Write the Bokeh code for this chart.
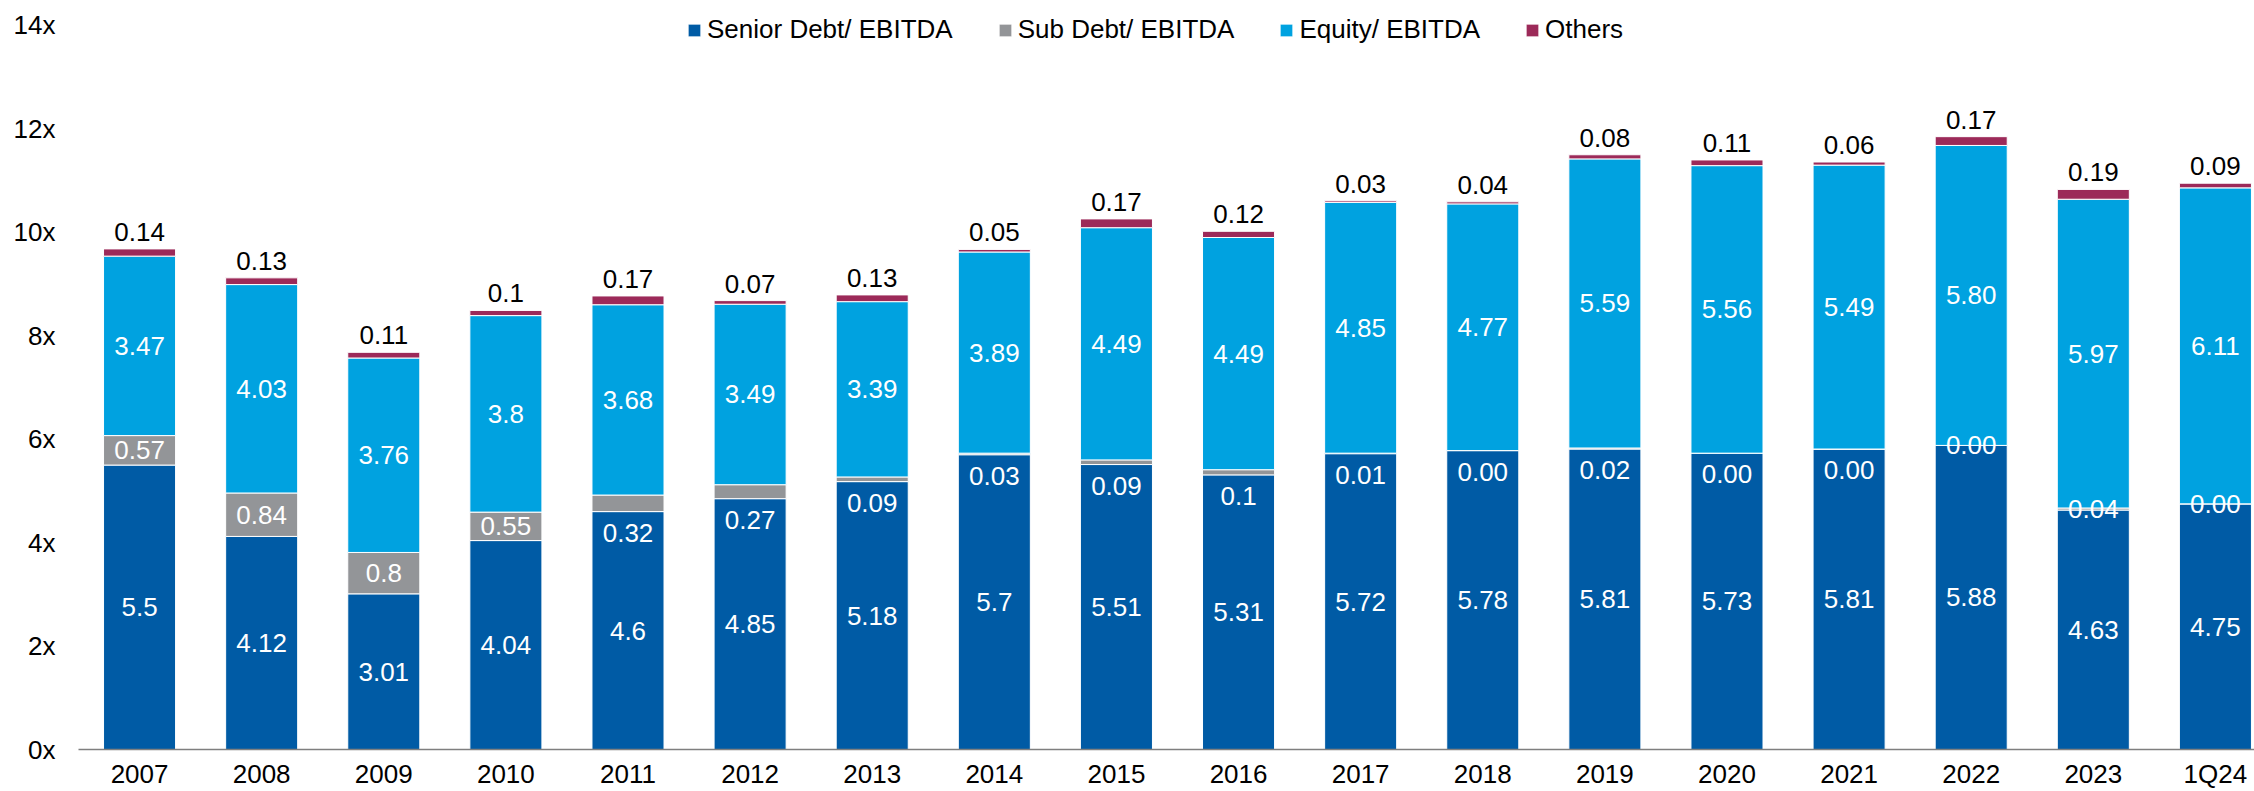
import numpy as np
from bokeh.plotting import figure
from bokeh.models import ColumnDataSource, Range1d, FixedTicker, PrintfTickFormatter
from bokeh.core.properties import value
from bokeh.embed import file_html
from bokeh.resources import INLINE

categories = ["2007", "2008", "2009", "2010", "2011", "2012", "2013", "2014", "2015",
              "2016", "2017", "2018", "2019", "2020", "2021", "2022", "2023", "1Q24"]
senior = [5.5, 4.12, 3.01, 4.04, 4.6, 4.85, 5.18, 5.7, 5.51, 5.31, 5.72, 5.78, 5.81, 5.73, 5.81, 5.88, 4.63, 4.75]
sub = [0.57, 0.84, 0.8, 0.55, 0.32, 0.27, 0.09, 0.03, 0.09, 0.1, 0.01, 0.00, 0.02, 0.00, 0.00, 0.00, 0.04, 0.00]
equity = [3.47, 4.03, 3.76, 3.8, 3.68, 3.49, 3.39, 3.89, 4.49, 4.49, 4.85, 4.77, 5.59, 5.56, 5.49, 5.80, 5.97, 6.11]
others = [0.14, 0.13, 0.11, 0.1, 0.17, 0.07, 0.13, 0.05, 0.17, 0.12, 0.03, 0.04, 0.08, 0.11, 0.06, 0.17, 0.19, 0.09]

senior_lbl = ["5.5", "4.12", "3.01", "4.04", "4.6", "4.85", "5.18", "5.7", "5.51", "5.31", "5.72", "5.78", "5.81", "5.73", "5.81", "5.88", "4.63", "4.75"]
sub_lbl = ["0.57", "0.84", "0.8", "0.55", "0.32", "0.27", "0.09", "0.03", "0.09", "0.1", "0.01", "0.00", "0.02", "0.00", "0.00", "0.00", "0.04", "0.00"]
equity_lbl = ["3.47", "4.03", "3.76", "3.8", "3.68", "3.49", "3.39", "3.89", "4.49", "4.49", "4.85", "4.77", "5.59", "5.56", "5.49", "5.80", "5.97", "6.11"]
others_lbl = ["0.14", "0.13", "0.11", "0.1", "0.17", "0.07", "0.13", "0.05", "0.17", "0.12", "0.03", "0.04", "0.08", "0.11", "0.06", "0.17", "0.19", "0.09"]

series_names = ["Senior Debt/ EBITDA", "Sub Debt/ EBITDA", "Equity/ EBITDA", "Others"]
y_ticks = [0, 2, 4, 6, 8, 10, 12, 14]

# label placement style for the sub-debt labels ("in" = centred in segment, "below" = under the boundary)
sub_place = ["in"] * 4 + ["below"] * 11 + ["in"] * 3

colors = ["#005BA5", "#939598", "#00A2E0", "#9C2A59"]
FONT = "Liberation Sans"
FS = "26px"

x = np.arange(len(categories))
sen = np.array(senior)
sb = np.array(sub)
eq = np.array(equity)
ot = np.array(others)

src = ColumnDataSource(dict(x=x, senior=sen, sub=sb, equity=eq, others=ot))

p = figure(width=2254, height=791,
           x_range=Range1d(-0.5, 17.32), y_range=Range1d(0, 14.483),
           output_backend="svg", toolbar_location=None,
           min_border_left=78, min_border_right=0, min_border_top=0, min_border_bottom=41)

p.vbar_stack(["senior", "sub", "equity", "others"], x="x", width=0.59, color=colors,
             line_color="white", line_width=1, source=src, legend_label=series_names)

# labels
p.text(x=x, y=sen / 2, text=senior_lbl, text_color="white", text_align="center",
       text_baseline="middle", text_font=value(FONT), text_font_size=FS)

sub_y = np.where(np.array(sub_place) == "in", sen + sb / 2, sen)
sub_off = [0 if s == "in" else 21 for s in sub_place]
p.text(x=x, y=sub_y, text=sub_lbl, y_offset=sub_off, text_color="white", text_align="center",
       text_baseline="middle", text_font=value(FONT), text_font_size=FS)

p.text(x=x, y=sen + sb + eq / 2, text=equity_lbl, text_color="white", text_align="center",
       text_baseline="middle", text_font=value(FONT), text_font_size=FS)

p.text(x=x, y=sen + sb + eq + ot, text=others_lbl, y_offset=-17, text_color="black", text_align="center",
       text_baseline="middle", text_font=value(FONT), text_font_size=FS)

# axes
p.xaxis.ticker = FixedTicker(ticks=list(range(len(categories))))
p.xaxis.major_label_overrides = {i: c for i, c in enumerate(categories)}
p.xaxis.axis_line_color = "#7F7F7F"
p.xaxis.axis_line_width = 1.5
p.xaxis.major_tick_line_color = None
p.xaxis.minor_tick_line_color = None
p.xaxis.major_tick_out = 0
p.xaxis.minor_tick_out = 0
p.xaxis.major_label_standoff = 9
p.xaxis.major_label_text_font = FONT
p.xaxis.major_label_text_font_size = FS
p.xaxis.major_label_text_color = "black"

p.yaxis.ticker = FixedTicker(ticks=y_ticks)
p.yaxis.formatter = PrintfTickFormatter(format="%dx")
p.yaxis.axis_line_color = None
p.yaxis.major_tick_line_color = None
p.yaxis.minor_tick_line_color = None
p.yaxis.major_tick_out = 0
p.yaxis.minor_tick_out = 0
p.yaxis.major_label_standoff = 23
p.yaxis.major_label_text_font = FONT
p.yaxis.major_label_text_font_size = FS
p.yaxis.major_label_text_color = "black"

p.xgrid.grid_line_color = None
p.ygrid.grid_line_color = None
p.outline_line_color = None

lg = p.legend[0]
lg.orientation = "horizontal"
lg.location = (608, 704)
lg.label_text_font = FONT
lg.label_text_font_size = FS
lg.label_text_color = "black"
lg.glyph_width = 16
lg.glyph_height = 16
lg.label_standoff = 5
lg.spacing = 44
lg.padding = 0
lg.margin = 0
lg.border_line_color = None
lg.background_fill_alpha = 0

open("out.html", "w").write(file_html(p, INLINE))
